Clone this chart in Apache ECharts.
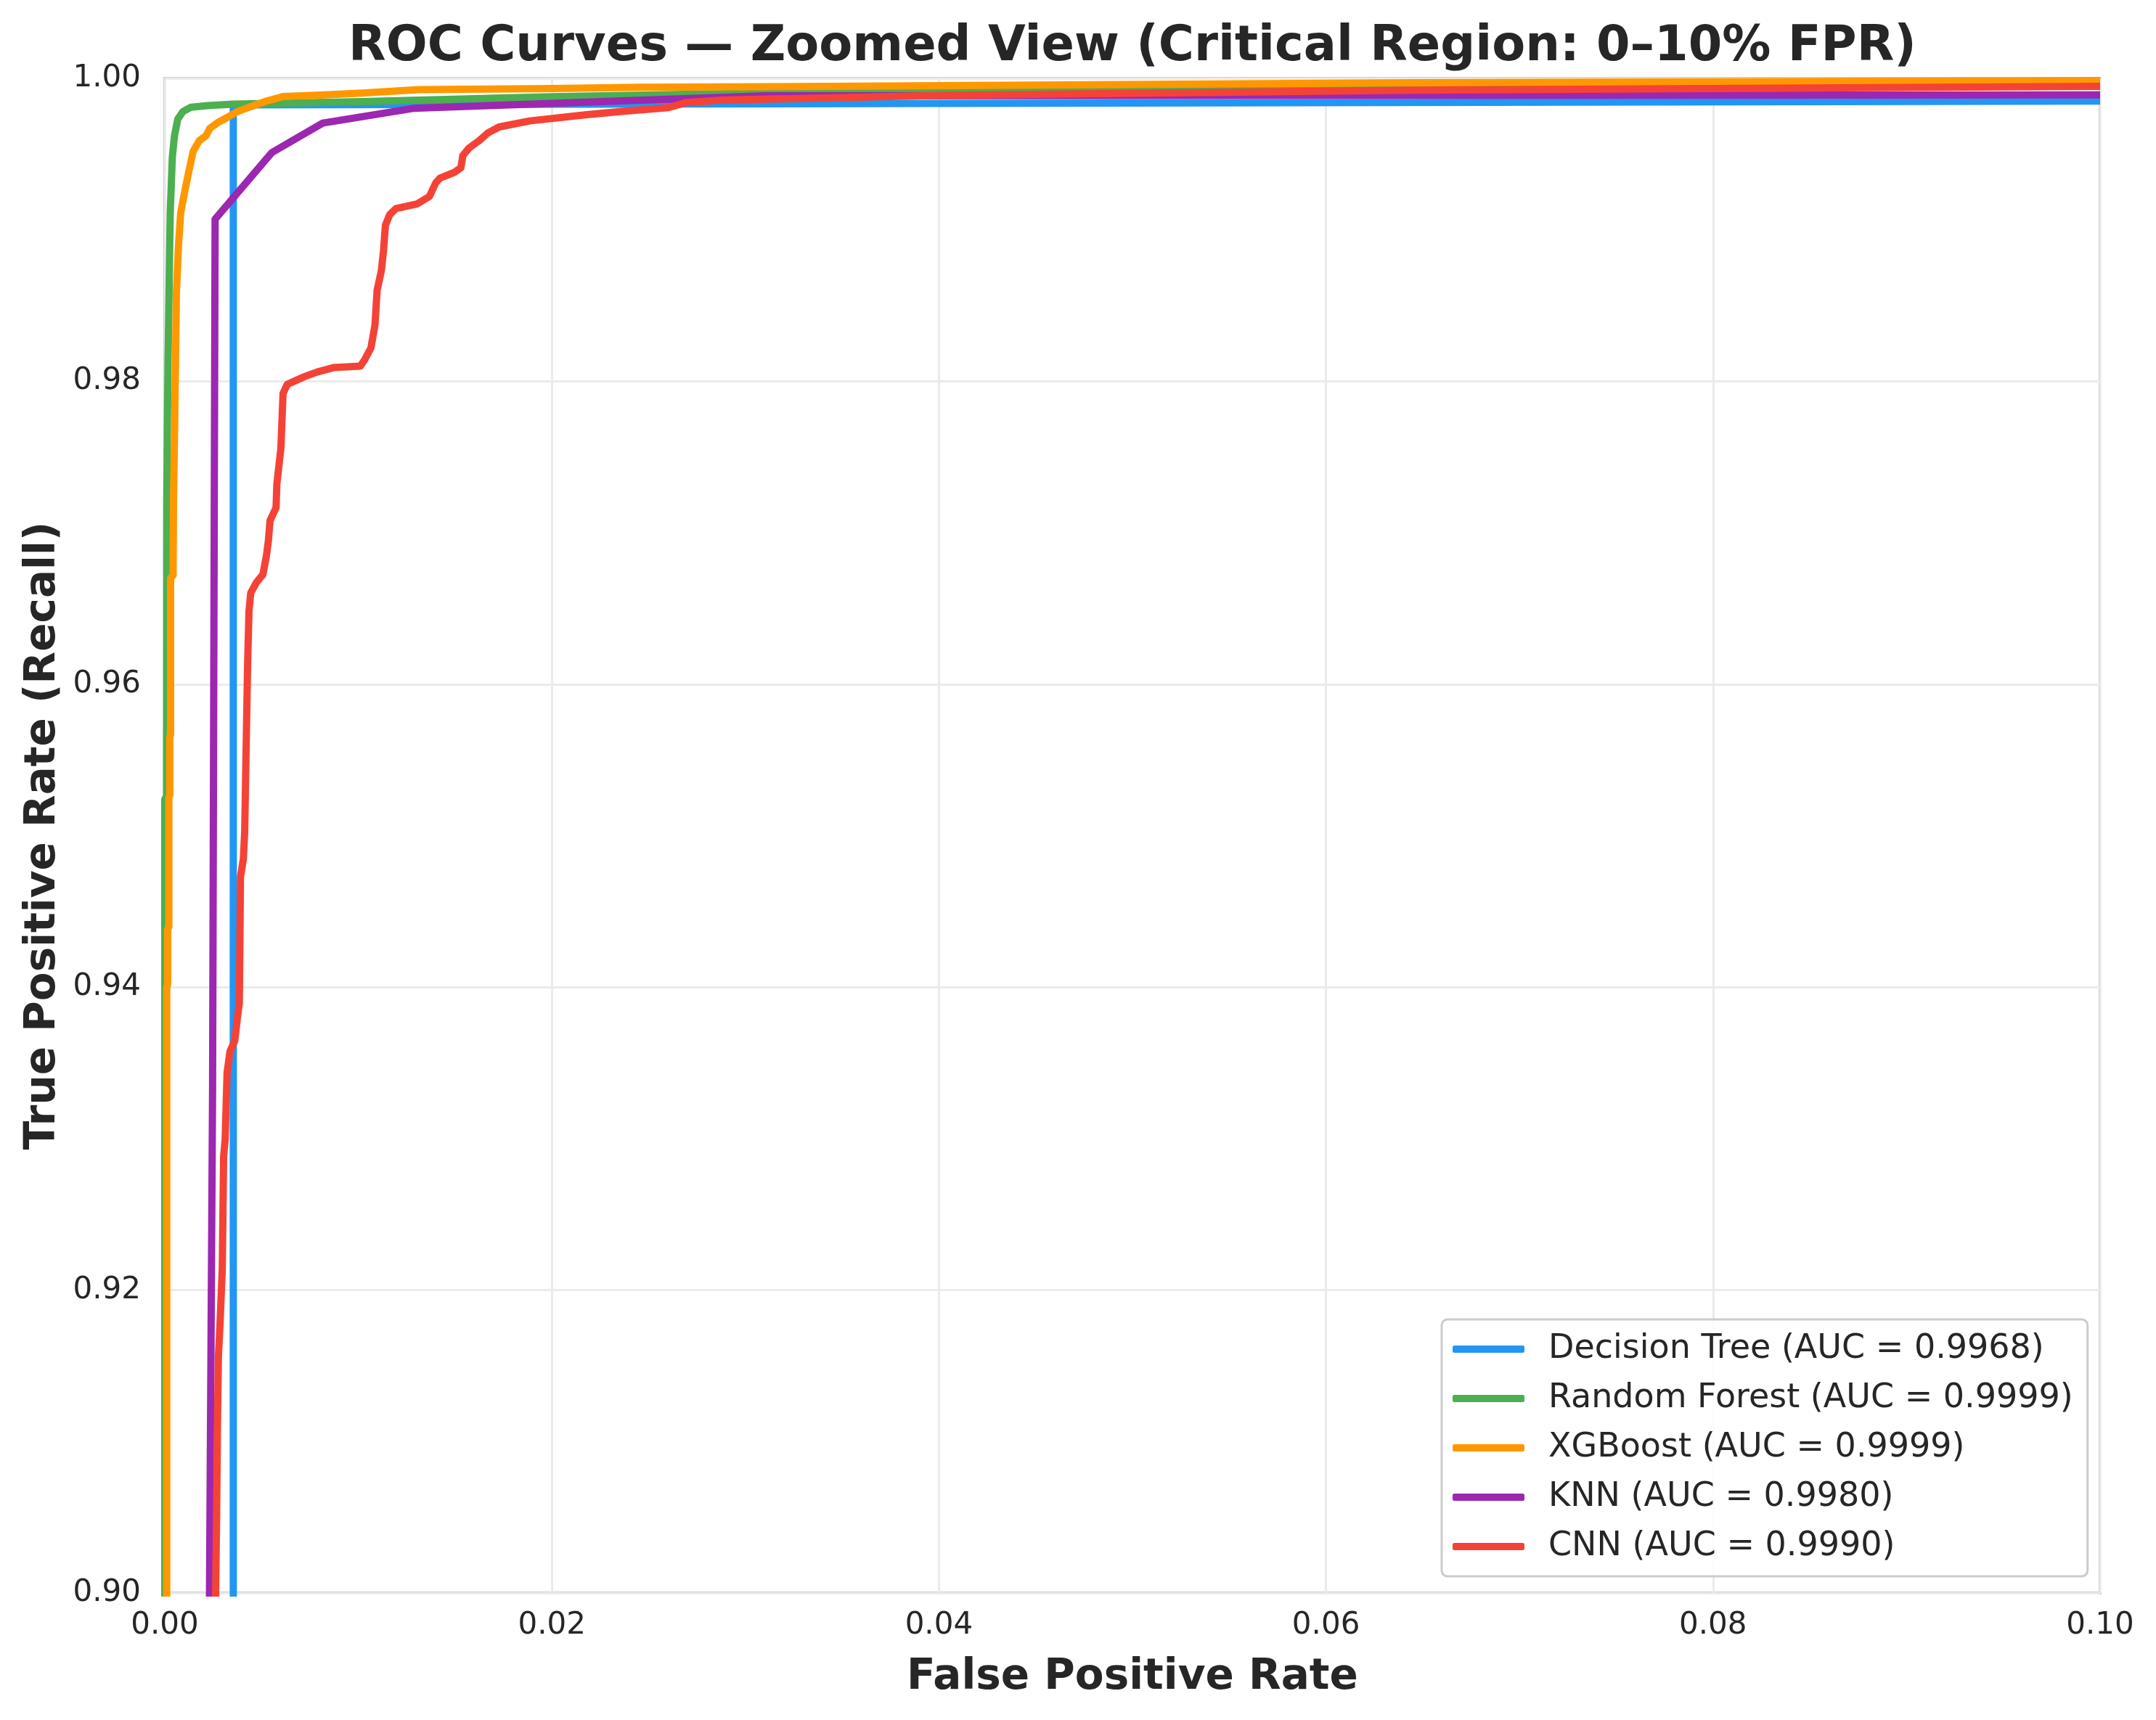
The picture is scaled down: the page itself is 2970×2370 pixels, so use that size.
<!DOCTYPE html>
<html>
<head>
<meta charset="utf-8">
<script src="https://cdn.jsdelivr.net/npm/echarts@6/dist/echarts.min.js"></script>
<style>
html,body{margin:0;padding:0;background:#ffffff;}
#chart{width:2970px;height:2370px;}
</style>
</head>
<body>
<div id="chart"></div>
<script>
// ---- Data ----
const seriesNames = [
  'Decision Tree (AUC = 0.9968)',
  'Random Forest (AUC = 0.9999)',
  'XGBoost (AUC = 0.9999)',
  'KNN (AUC = 0.9980)',
  'CNN (AUC = 0.9990)'
];
const seriesColors = ['#2196F3', '#4CAF50', '#FF9800', '#9C27B0', '#F44336'];

const fprDT = [0.00354, 0.00354, 0.1];
const tprDT = [0.85, 0.99825, 0.9985];

const fprRF = [0, 0, 0.00009, 0.0001, 0.00012, 0.00017, 0.00028, 0.00039, 0.0005, 0.00067, 0.00093, 0.00136, 0.00222, 0.00352, 0.00546, 0.0102, 0.02, 0.0327, 0.045, 0.06, 0.08, 0.1];
const tprRF = [0.85, 0.9524, 0.9526, 0.972, 0.975, 0.9815, 0.9911, 0.9948, 0.9962, 0.9973, 0.9978, 0.9981, 0.9982, 0.9983, 0.99835, 0.99847, 0.99879, 0.99908, 0.9993, 0.9996, 0.99972, 0.9998];

const fprXGB = [0.0001, 0.0001, 0.00015, 0.00015, 0.00021, 0.00021, 0.00026, 0.00026, 0.0003, 0.0003, 0.00043, 0.00045, 0.0005, 0.0006, 0.00071, 0.00082, 0.00104, 0.00125, 0.00147, 0.00179, 0.00212, 0.00233, 0.00276, 0.0032, 0.00374, 0.00438, 0.00525, 0.00611, 0.00806, 0.0102, 0.0131, 0.02, 0.0246, 0.0327, 0.0646, 0.1];
const tprXGB = [0.85, 0.94, 0.9402, 0.9438, 0.944, 0.9525, 0.9527, 0.9565, 0.9567, 0.967, 0.9672, 0.972, 0.9762, 0.9858, 0.989, 0.9911, 0.9926, 0.9939, 0.9952, 0.9959, 0.9962, 0.9967, 0.9971, 0.9974, 0.9978, 0.9981, 0.9985, 0.9988, 0.9989, 0.99903, 0.99926, 0.99933, 0.99941, 0.99946, 0.99971, 0.99986];

const fprKNN = [0.00215, 0.00231, 0.00247, 0.0026, 0.00553, 0.00816, 0.01283, 0.031, 0.1];
const tprKNN = [0.85, 0.90, 0.9334, 0.9907, 0.9951, 0.99705, 0.99802, 0.99885, 0.99891];

const fprCNN = [0.0025, 0.00263, 0.00268, 0.00272, 0.00277, 0.00285, 0.00297, 0.00304, 0.00312, 0.00322, 0.00337, 0.00362, 0.00375, 0.00385, 0.00388, 0.00391, 0.00406, 0.00413, 0.00419, 0.00428, 0.00435, 0.00444, 0.00475, 0.00507, 0.00525, 0.00535, 0.00544, 0.00575, 0.00579, 0.0060, 0.00611, 0.00633, 0.0072, 0.00784, 0.0087, 0.0101, 0.01032, 0.01065, 0.01086, 0.01097, 0.01119, 0.0113, 0.0114, 0.01162, 0.01194, 0.01302, 0.01367, 0.014, 0.01421, 0.01497, 0.0153, 0.0154, 0.01572, 0.01626, 0.0167, 0.01727, 0.01885, 0.02172, 0.02373, 0.02603, 0.02689, 0.0289, 0.03275, 0.04, 0.0646, 0.1];
const tprCNN = [0.85, 0.9002, 0.90536, 0.91093, 0.91557, 0.91766, 0.92137, 0.9288, 0.92996, 0.93437, 0.93576, 0.93649, 0.93796, 0.93894, 0.9426, 0.94725, 0.94846, 0.9503, 0.95481, 0.96128, 0.96482, 0.96602, 0.96675, 0.96724, 0.96847, 0.96945, 0.9708, 0.97166, 0.9732, 0.9756, 0.9792, 0.9798, 0.9803, 0.9806, 0.9809, 0.981, 0.9814, 0.9822, 0.9837, 0.986, 0.9873, 0.9886, 0.9903, 0.991, 0.9914, 0.9917, 0.9922, 0.9931, 0.9934, 0.9938, 0.9941, 0.9949, 0.9954, 0.9959, 0.9964, 0.99679, 0.99719, 0.99759, 0.99783, 0.99807, 0.99839, 0.99858, 0.99867, 0.99887, 0.99922, 0.99947];

const xTicks = [0, 0.02, 0.04, 0.06, 0.08, 0.10];
const yTicks = [0.90, 0.92, 0.94, 0.96, 0.98, 1.00];

const titleText = 'ROC Curves \u2014 Zoomed View (Critical Region: 0\u201310% FPR)';
const xLabel = 'False Positive Rate';
const yLabel = 'True Positive Rate (Recall)';

// ---- Build chart ----
const FONT = 'DejaVu Sans';
const TXT = '#262626';
function zip(xs, ys) { return xs.map((x, i) => [x, ys[i]]); }
const allFpr = [fprDT, fprRF, fprXGB, fprKNN, fprCNN];
const allTpr = [tprDT, tprRF, tprXGB, tprKNN, tprCNN];

const chart = echarts.init(document.getElementById('chart'), null, {renderer: 'canvas'});
const option = {
  backgroundColor: '#ffffff',
  animation: false,
  title: {
    text: titleText,
    left: 1560,
    textAlign: 'center',
    top: 32,
    padding: 0,
    textStyle: {fontFamily: FONT, fontSize: 67, fontWeight: 'bold', color: TXT}
  },
  grid: {
    left: 227, right: 77, top: 108, bottom: 175,
    show: true, borderColor: '#cccccc', borderWidth: 4, backgroundColor: '#ffffff'
  },
  legend: {
    orient: 'vertical',
    left: 1986,
    top: 1818,
    data: seriesNames,
    icon: 'roundRect',
    itemWidth: 99,
    itemHeight: 10,
    itemGap: 22,
    padding: [18, 20, 18, 15],
    backgroundColor: 'rgba(255,255,255,0.85)',
    borderColor: '#cccccc',
    borderWidth: 3,
    borderRadius: 8,
    textStyle: {fontFamily: FONT, fontSize: 46, color: TXT, padding: [0, 0, 0, 28]}
  },
  xAxis: {
    type: 'value',
    min: xTicks[0], max: xTicks[xTicks.length - 1], interval: 0.02,
    name: xLabel,
    nameLocation: 'middle',
    nameGap: 88,
    nameTextStyle: {fontFamily: FONT, fontSize: 58, fontWeight: 'bold', color: TXT},
    axisLine: {show: false},
    axisTick: {show: false},
    axisLabel: {fontFamily: FONT, fontSize: 42, color: TXT, margin: 24,
      formatter: v => v.toFixed(2)},
    splitLine: {show: true, lineStyle: {color: '#ebebeb', width: 3}}
  },
  yAxis: {
    type: 'value',
    min: yTicks[0], max: yTicks[yTicks.length - 1], interval: 0.02,
    name: yLabel,
    nameLocation: 'middle',
    nameGap: 138,
    nameTextStyle: {fontFamily: FONT, fontSize: 58, fontWeight: 'bold', color: TXT},
    axisLine: {show: false},
    axisTick: {show: false},
    axisLabel: {fontFamily: FONT, fontSize: 42, color: TXT, margin: 33,
      formatter: v => v.toFixed(2)},
    splitLine: {show: true, lineStyle: {color: '#ebebeb', width: 3}}
  },
  series: seriesNames.map((name, i) => ({
    name: name,
    type: 'line',
    data: zip(allFpr[i], allTpr[i]),
    showSymbol: false,
    symbol: 'none',
    clip: true,
    color: seriesColors[i],
    lineStyle: {color: seriesColors[i], width: 10, join: 'round', cap: 'butt'},
    emphasis: {disabled: true},
    z: 2 + i
  }))
};
chart.setOption(option);
</script>
</body>
</html>
